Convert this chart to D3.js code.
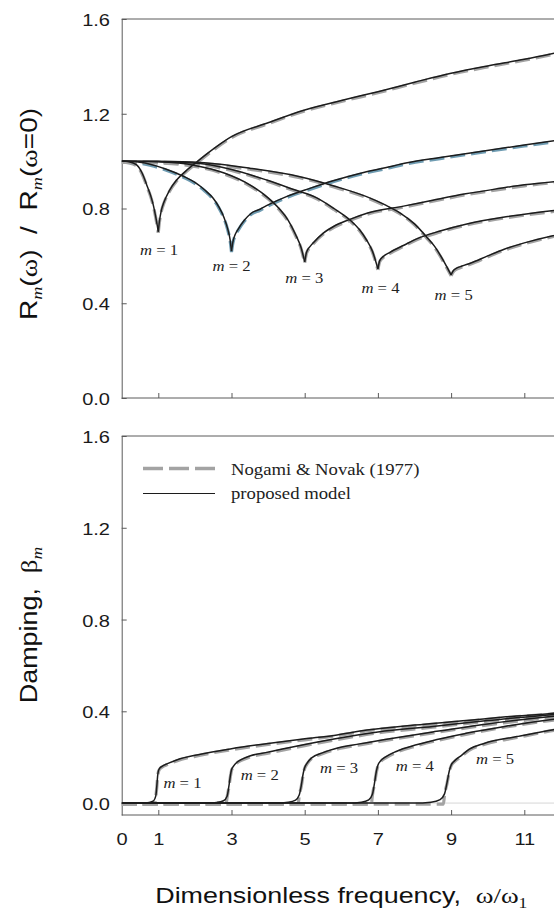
<!DOCTYPE html>
<html><head><meta charset="utf-8">
<script src="https://cdn.jsdelivr.net/npm/d3@7"></script>
<style>html,body{margin:0;padding:0;background:#fff;}svg{display:block}</style>
</head><body>
<svg id="c" width="554" height="918"></svg>
<script>
// ---------------- data ----------------
const modes = [1, 2, 3, 4, 5];
const xTickValues = [1, 3, 5, 7, 9, 11];
const xTickLabels = [0, 1, 3, 5, 7, 9, 11];
const yTickValues = [0, 0.4, 0.8, 1.2, 1.6];
const legendLabels = ["Nogami & Novak (1977)", "proposed model"];

// stiffness ratio R_m(w)/R_m(0) vs w/w1 (proposed model; Nogami & Novak coincides)
const stiffM1 = [[0,1.0],[0.2,0.997],[0.4,0.985],[0.55,0.952],[0.7,0.893],[0.8,0.85],[0.87,0.81],[0.93,0.765],[0.97,0.73],[1.0,0.702],[1.03,0.745],[1.08,0.79],[1.15,0.825],[1.3,0.875],[1.5,0.92],[1.75,0.958],[2.08,1.0],[2.6,1.062],[3.0,1.103],[4.0,1.162],[5.0,1.216],[6.0,1.256],[7.0,1.293],[8.0,1.333],[9.0,1.371],[10.0,1.402],[11.0,1.43],[12.0,1.462]];
const stiffM2 = [[0,1.0],[0.5,0.995],[0.8,0.986],[1.2,0.967],[1.7,0.935],[2.0,0.91],[2.27,0.878],[2.5,0.843],[2.65,0.808],[2.8,0.76],[2.9,0.712],[2.96,0.67],[3.0,0.62],[3.04,0.66],[3.1,0.69],[3.18,0.712],[3.35,0.75],[3.54,0.78],[3.78,0.797],[4.0,0.815],[4.5,0.85],[5.14,0.885],[5.8,0.918],[6.5,0.948],[7.2,0.972],[7.8,0.993],[8.7,1.015],[9.76,1.04],[11.0,1.068],[12.0,1.09]];
const stiffM3 = [[0,1.0],[1.0,0.997],[2.0,0.982],[2.8,0.95],[3.5,0.9],[4.0,0.845],[4.3,0.8],[4.55,0.75],[4.75,0.69],[4.9,0.635],[5.0,0.575],[5.05,0.615],[5.15,0.64],[5.25,0.658],[5.5,0.695],[5.8,0.725],[6.2,0.752],[6.7,0.78],[7.7,0.81],[8.5,0.835],[9.4,0.862],[10.34,0.885],[11.0,0.9],[12.0,0.916]];
const stiffM4 = [[0,1.0],[1.0,0.998],[2.14,0.99],[3.0,0.965],[3.96,0.92],[4.7,0.88],[5.33,0.845],[5.8,0.8],[6.24,0.751],[6.5,0.71],[6.69,0.667],[6.85,0.62],[7.0,0.545],[7.05,0.58],[7.15,0.598],[7.33,0.615],[7.71,0.645],[8.06,0.672],[8.7,0.705],[9.43,0.735],[10.5,0.765],[11.0,0.776],[12.0,0.795]];
const stiffM5 = [[0,1.0],[1.0,0.999],[2.14,0.994],[3.5,0.97],[4.87,0.934],[5.8,0.895],[6.69,0.85],[7.2,0.815],[7.6,0.782],[8.0,0.735],[8.33,0.68],[8.55,0.64],[8.79,0.58],[8.93,0.54],[9.0,0.52],[9.05,0.535],[9.15,0.548],[9.3,0.557],[9.54,0.57],[10.0,0.6],[10.45,0.628],[11.0,0.655],[12.0,0.693]];

// damping beta_m vs w/w1 (proposed model)
const dampM1 = [[0,0],[0.55,0],[0.75,0.003],[0.87,0.01],[0.93,0.03],[0.96,0.075],[0.98,0.115],[1.0,0.138],[1.04,0.152],[1.1,0.16],[1.25,0.172],[1.5,0.188],[2.15,0.213],[3.0,0.237],[4.0,0.26],[5.0,0.28],[5.8,0.295],[6.7,0.318],[8.0,0.34],[9.43,0.36],[10.5,0.376],[11.8,0.392],[12.0,0.395]];
const dampM2 = [[0,0],[2.3,0],[2.6,0.003],[2.78,0.01],[2.88,0.03],[2.93,0.075],[2.97,0.12],[3.0,0.145],[3.06,0.162],[3.15,0.178],[3.25,0.188],[3.5,0.205],[4.0,0.222],[5.0,0.255],[5.8,0.279],[7.0,0.31],[8.5,0.334],[10.0,0.36],[11.8,0.386],[12.0,0.389]];
const dampM3 = [[0,0],[4.2,0],[4.55,0.004],[4.75,0.013],[4.85,0.035],[4.91,0.08],[4.96,0.13],[5.0,0.155],[5.07,0.175],[5.18,0.196],[5.5,0.22],[5.9,0.24],[6.5,0.258],[7.5,0.285],[8.5,0.31],[10.0,0.345],[11.8,0.378],[12.0,0.381]];
const dampM4 = [[0,0],[6.2,0],[6.55,0.004],[6.75,0.014],[6.85,0.038],[6.91,0.09],[6.96,0.14],[7.0,0.165],[7.08,0.185],[7.2,0.2],[7.5,0.225],[8.08,0.255],[9.44,0.305],[10.5,0.335],[11.8,0.365],[12.0,0.369]];
const dampM5 = [[0,0],[8.0,0],[8.45,0.004],[8.7,0.015],[8.82,0.04],[8.89,0.09],[8.95,0.14],[9.0,0.165],[9.1,0.185],[9.26,0.205],[9.5,0.235],[9.9,0.26],[10.8,0.29],[11.8,0.32],[12.0,0.325]];

// damping beta_m, Nogami & Novak (1977): zero below cut-off, then rising with the model
const dampNN1 = [[0,0],[0.9,0],[0.93,0.03],[0.96,0.075],[0.98,0.115],[1.0,0.138],[1.04,0.153],[1.1,0.161],[1.25,0.172],[1.5,0.188],[2.15,0.213],[3.0,0.237],[4.0,0.26],[5.0,0.28],[5.8,0.296],[6.7,0.319],[8.0,0.341],[9.43,0.361],[10.5,0.377],[11.8,0.393],[12.0,0.396]];
const dampNN2 = [[0,0],[2.85,0],[2.88,0.03],[2.93,0.075],[2.97,0.12],[3.0,0.146],[3.06,0.163],[3.15,0.179],[3.25,0.189],[3.5,0.205],[4.0,0.222],[5.0,0.255],[5.8,0.279],[7.0,0.31],[8.5,0.335],[10.0,0.361],[11.8,0.387],[12.0,0.39]];
const dampNN3 = [[0,0],[4.82,0],[4.85,0.035],[4.91,0.08],[4.96,0.13],[5.0,0.156],[5.07,0.176],[5.18,0.197],[5.5,0.22],[5.9,0.24],[6.5,0.258],[7.5,0.285],[8.5,0.31],[10.0,0.345],[11.8,0.379],[12.0,0.382]];
const dampNN4 = [[0,0],[6.82,0],[6.85,0.038],[6.91,0.09],[6.96,0.14],[7.0,0.166],[7.08,0.186],[7.2,0.2],[7.5,0.225],[8.08,0.255],[9.44,0.305],[10.5,0.336],[11.8,0.366],[12.0,0.37]];
const dampNN5 = [[0,0],[8.79,0],[8.82,0.04],[8.89,0.09],[8.95,0.14],[9.0,0.166],[9.1,0.186],[9.26,0.205],[9.5,0.235],[9.9,0.26],[10.8,0.29],[11.8,0.321],[12.0,0.326]];

// label anchors (data coordinates)
const stiffLabelAt = [[1.02,0.604],[3.0,0.536],[4.99,0.485],[7.07,0.443],[9.07,0.414]];
const dampLabelAt  = [[1.66,0.067],[3.77,0.10],[5.94,0.131],[8.01,0.14],[10.2,0.17]];

const stiffModel = [stiffM1, stiffM2, stiffM3, stiffM4, stiffM5];
const dampModel = [dampM1, dampM2, dampM3, dampM4, dampM5];
const dampNN = [dampNN1, dampNN2, dampNN3, dampNN4, dampNN5];

// ---------------- drawing ----------------
const W = 554, H = 918;
const SANS = "'Liberation Sans', Arial, Helvetica, sans-serif";
const SERIF = "'Liberation Serif', 'Times New Roman', serif";
const svg = d3.select("#c");
const AX = "#5a5a5a";
const DASH_GRAY = "#a3a3a3";

const x = d3.scaleLinear().domain([0, 12]).range([121.7, 560.9]);
const yTop = d3.scaleLinear().domain([0, 1.6]).range([398, 19]);
const yBot = d3.scaleLinear().domain([-0.052, 1.6]).range([815, 436]);

const defs = svg.append("defs");
defs.append("clipPath").attr("id", "clipTop").append("rect")
  .attr("x", x(0)).attr("y", yTop(1.6)).attr("width", x(12) - x(0)).attr("height", yTop(0) - yTop(1.6));
defs.append("clipPath").attr("id", "clipBot").append("rect")
  .attr("x", x(0)).attr("y", yBot(1.6)).attr("width", x(12) - x(0)).attr("height", yBot(-0.052) - yBot(1.6));

function stretchText(sel, s) {
  sel.each(function () {
    const t = d3.select(this);
    const tx = +t.attr("x") || 0;
    t.attr("x", tx / s);
    t.attr("transform", `scale(${s},1)`);
  });
}

function panel(y, clipId, withLabels) {
  const g = svg.append("g");
  const top = y.range()[1], bot = y.range()[0];
  g.append("line").attr("x1", x(0)).attr("x2", W + 10).attr("y1", top).attr("y2", top).attr("stroke", AX);
  const ya = g.append("g").attr("transform", `translate(${x(0)},0)`)
    .call(d3.axisLeft(y).tickValues(yTickValues).tickSizeInner(-5).tickSizeOuter(0).tickFormat(d3.format(".1f")));
  ya.select(".domain").attr("stroke", AX);
  ya.selectAll(".tick line").attr("stroke", AX);
  ya.selectAll(".tick text").attr("font-family", SANS).attr("font-size", 17).attr("fill", "#1a1a1a")
    .attr("x", -11.7).attr("dy", "0.38em");
  stretchText(ya.selectAll(".tick text"), 1.18);
  const xa = g.append("g").attr("transform", `translate(0,${bot})`)
    .call(d3.axisBottom(x).tickValues(withLabels ? xTickLabels : xTickValues).tickSizeInner(-5).tickSizeOuter(0)
      .tickFormat(withLabels ? d3.format("d") : () => ""));
  xa.select(".domain").attr("stroke", AX).attr("d", `M${x(0)},0H${W + 10}`);
  xa.selectAll(".tick line").attr("stroke", AX).attr("opacity", d => d === 0 ? 0 : 1);
  xa.selectAll(".tick text").attr("font-family", SANS).attr("font-size", 17).attr("fill", "#1a1a1a")
    .attr("y", 30).attr("dy", 0);
  stretchText(xa.selectAll(".tick text"), 1.18);
  return g.append("g").attr("clip-path", `url(#${clipId})`);
}

function mLabel(px, py, m) {
  const t = svg.append("text").attr("font-family", SERIF).attr("font-size", 14.5).attr("fill", "#222")
    .attr("text-anchor", "middle").attr("transform", `translate(${px},${py}) scale(1.15,1)`);
  t.append("tspan").attr("font-style", "italic").text("m");
  t.append("tspan").text(" = " + m);
}

// ---- top panel ----
const gTop = panel(yTop, "clipTop", false);
const lineTop = d3.line().x(d => x(d[0])).y(d => yTop(d[1])).curve(d3.curveMonotoneX);
const topDashColors = [DASH_GRAY, "#6f9cb2", DASH_GRAY, DASH_GRAY, DASH_GRAY];
function splitAtMin(arr) {
  const i = d3.minIndex(arr, d => d[1]);
  return [arr.slice(0, i + 1), arr.slice(i)];
}
stiffModel.forEach((arr, k) => {
  splitAtMin(arr).forEach(part => {
    gTop.append("path").attr("d", lineTop(part)).attr("fill", "none")
      .attr("stroke", topDashColors[k]).attr("stroke-width", 3.2).attr("stroke-dasharray", "15,6")
      .attr("transform", "translate(0,1)");
  });
});
stiffModel.forEach(arr => {
  splitAtMin(arr).forEach(part => {
    gTop.append("path").attr("d", lineTop(part)).attr("fill", "none")
      .attr("stroke", "#1c1c1c").attr("stroke-width", 1.5);
  });
});
modes.forEach((m, k) => mLabel(x(stiffLabelAt[k][0]), yTop(stiffLabelAt[k][1]), m));

// ---- bottom panel ----
const gBot = panel(yBot, "clipBot", true);
gBot.append("line").attr("x1", x(0)).attr("x2", x(12)).attr("y1", yBot(0)).attr("y2", yBot(0))
  .attr("stroke", "#d6d6d6").attr("stroke-width", 1);
const lineBot = d3.line().x(d => x(d[0])).y(d => yBot(d[1])).curve(d3.curveMonotoneX);
dampNN.forEach(arr => {
  gBot.append("path").attr("d", lineBot(arr)).attr("fill", "none")
    .attr("stroke", DASH_GRAY).attr("stroke-width", 3.2).attr("stroke-dasharray", "15,6")
    .attr("transform", "translate(0,1)");
});
dampModel.forEach(arr => {
  gBot.append("path").attr("d", lineBot(arr)).attr("fill", "none")
    .attr("stroke", "#1c1c1c").attr("stroke-width", 1.5);
});
modes.forEach((m, k) => mLabel(x(dampLabelAt[k][0]), yBot(dampLabelAt[k][1]), m));

// legend
const lg = svg.append("g");
lg.append("line").attr("x1", 143).attr("x2", 215).attr("y1", 468.5).attr("y2", 468.5)
  .attr("stroke", DASH_GRAY).attr("stroke-width", 3.5).attr("stroke-dasharray", "20,6");
lg.append("line").attr("x1", 143).attr("x2", 215).attr("y1", 493.5).attr("y2", 493.5)
  .attr("stroke", "#1c1c1c").attr("stroke-width", 1.2);
lg.append("text").attr("font-family", SERIF).attr("font-size", 17).attr("fill", "#222")
  .attr("transform", "translate(231,474.5) scale(1.1,1)").text(legendLabels[0]);
lg.append("text").attr("font-family", SERIF).attr("font-size", 17).attr("fill", "#222")
  .attr("transform", "translate(231,499) scale(1.1,1)").text(legendLabels[1]);

// ---- axis titles ----
const t1 = svg.append("text").attr("font-family", SANS).attr("font-size", 23).attr("fill", "#111")
  .attr("text-anchor", "middle").attr("xml:space", "preserve")
  .attr("transform", "translate(37,214) rotate(-90) scale(1.22,1)");
t1.append("tspan").text("R");
t1.append("tspan").attr("font-family", SERIF).attr("font-style", "italic").attr("font-size", 15).attr("dy", 5).text("m");
t1.append("tspan").attr("dy", -5).text("(");
t1.append("tspan").attr("font-family", SERIF).text("\u03c9");
t1.append("tspan").text(")  /  R");
t1.append("tspan").attr("font-family", SERIF).attr("font-style", "italic").attr("font-size", 15).attr("dy", 5).text("m");
t1.append("tspan").attr("dy", -5).text("(");
t1.append("tspan").attr("font-family", SERIF).text("\u03c9");
t1.append("tspan").text("=0)");

const t2 = svg.append("text").attr("font-family", SANS).attr("font-size", 23).attr("fill", "#111")
  .attr("text-anchor", "middle").attr("xml:space", "preserve")
  .attr("transform", "translate(37,625) rotate(-90) scale(1.17,1)");
t2.append("tspan").text("Damping,  ");
t2.append("tspan").attr("font-family", SERIF).text("\u03b2");
t2.append("tspan").attr("font-family", SERIF).attr("font-style", "italic").attr("font-size", 15).attr("dy", 5).text("m");

const t3 = svg.append("text").attr("font-family", SANS).attr("font-size", 21.5).attr("fill", "#111")
  .attr("text-anchor", "middle").attr("xml:space", "preserve")
  .attr("transform", `translate(${(x(0) + x(12)) / 2},903) scale(1.25,1)`);
t3.append("tspan").text("Dimensionless frequency,  ");
t3.append("tspan").attr("font-family", SERIF).text("\u03c9/\u03c9");
t3.append("tspan").attr("font-family", SERIF).attr("font-size", 14).attr("dy", 5).text("1");
</script>
</body></html>
